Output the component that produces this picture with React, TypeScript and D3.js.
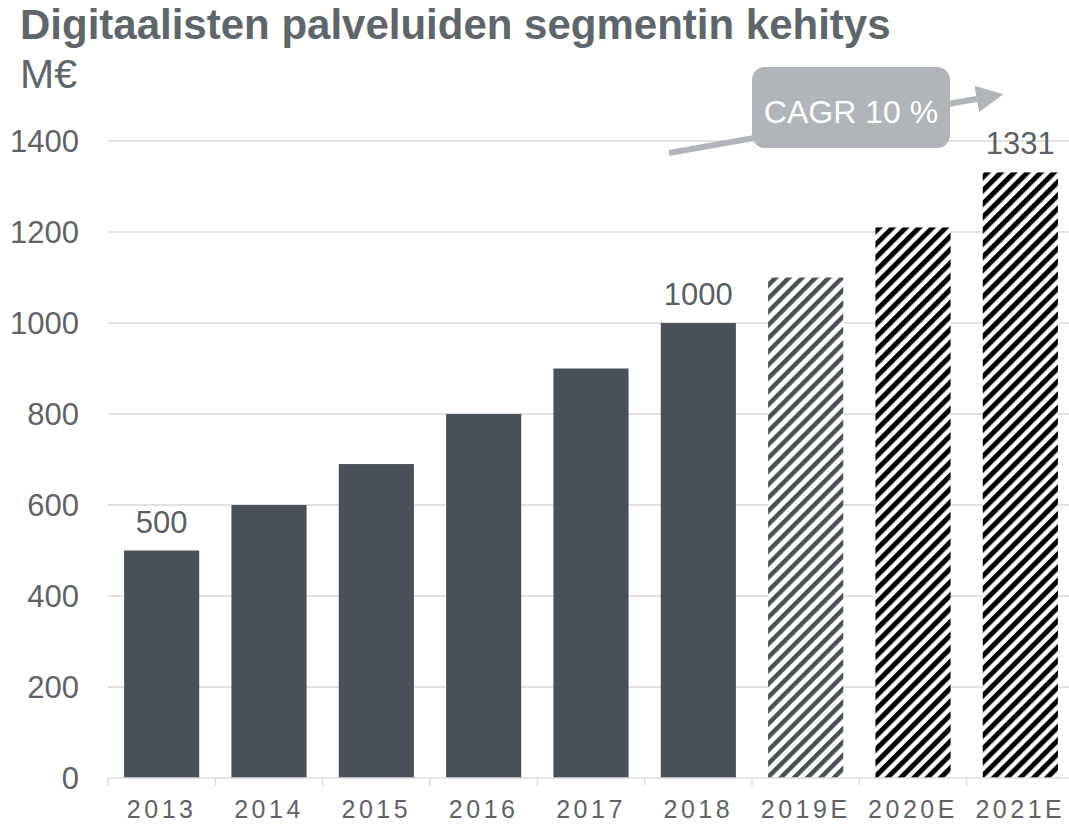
import { useEffect, useRef } from "react";
import * as d3 from "d3";

const years = ["2013", "2014", "2015", "2016", "2017", "2018", "2019E", "2020E", "2021E"];
const values = [500, 600, 690, 800, 900, 1000, 1100, 1210, 1331];
const fills = ["solid", "solid", "solid", "solid", "solid", "solid", "hatchGrey", "hatchBlack", "hatchBlack"];
const labelled = ["2013", "2018", "2021E"];
const yTicks = [0, 200, 400, 600, 800, 1000, 1200, 1400];

const title = "Digitaalisten palveluiden segmentin kehitys";
const unit = "M€";
const cagrText = "CAGR 10 %";

const W = 1069;
const H = 824;
const FONT = "'Liberation Sans', Arial, sans-serif";

const App = () => {
  const svgRef = useRef<SVGSVGElement | null>(null);

  useEffect(() => {
    if (!svgRef.current) return;
    const svg = d3.select(svgRef.current);
    svg.selectAll("*").remove();

    const xScale = d3.scaleBand().domain(years).range([108, 1074]).paddingInner(0.3).paddingOuter(0.15);
    const yScale = d3.scaleLinear().domain([0, 1400]).range([778, 141]);

    // hatch patterns
    const defs = svg.append("defs");
    const hatch = (id: string, color: string, stripe: number) => {
      const p = defs
        .append("pattern")
        .attr("id", id)
        .attr("patternUnits", "userSpaceOnUse")
        .attr("width", 9.4)
        .attr("height", 9.4)
        .attr("patternTransform", "rotate(45)");
      p.append("rect").attr("width", 9.4).attr("height", 9.4).attr("fill", "#fff");
      p.append("rect").attr("width", stripe).attr("height", 9.4).attr("fill", color);
    };
    hatch("hatchGrey", "#4a5057", 4.5);
    hatch("hatchBlack", "#000", 5);

    // gridlines
    svg
      .append("g")
      .selectAll("line")
      .data(yTicks.filter((d) => d > 0))
      .join("line")
      .attr("x1", 108)
      .attr("x2", W)
      .attr("y1", (d) => yScale(d))
      .attr("y2", (d) => yScale(d))
      .attr("stroke", "#d9d9d9")
      .attr("stroke-width", 1.5);

    // y labels
    svg
      .append("g")
      .selectAll("text")
      .data(yTicks)
      .join("text")
      .attr("x", 79)
      .attr("y", (d) => yScale(d))
      .attr("dy", "0.36em")
      .attr("text-anchor", "end")
      .attr("font-family", FONT)
      .attr("font-size", 31)
      .attr("fill", "#5f6367")
      .text((d) => d);

    // bars
    svg
      .append("g")
      .selectAll("rect")
      .data(years)
      .join("rect")
      .attr("x", (d) => xScale(d)!)
      .attr("y", (d, i) => yScale(values[i]))
      .attr("width", xScale.bandwidth())
      .attr("height", (d, i) => yScale(0) - yScale(values[i]))
      .attr("fill", (d, i) => (fills[i] === "solid" ? "#4a5057" : `url(#${fills[i]})`));

    // x axis
    const xAxis = d3.axisBottom(xScale).tickSize(0).tickPadding(0);
    const ax = svg.append("g").attr("transform", `translate(0,${yScale(0)})`).call(xAxis);
    ax.select(".domain").remove();
    ax.append("line").attr("x1", 108).attr("x2", W).attr("y1", 0).attr("y2", 0).attr("stroke", "#d9dde0").attr("stroke-width", 1.5);
    const step = xScale.step();
    ax.selectAll(".sep")
      .data(d3.range(years.length + 1))
      .join("line")
      .attr("class", "sep")
      .attr("x1", (i) => 108 + i * step)
      .attr("x2", (i) => 108 + i * step)
      .attr("y1", 0)
      .attr("y2", 8)
      .attr("stroke", "#d9dde0")
      .attr("stroke-width", 1.5);
    ax.selectAll(".tick text")
      .attr("y", 40)
      .attr("dy", 0)
      .attr("font-family", FONT)
      .attr("font-size", 25)
      .attr("letter-spacing", 3.5)
      .attr("fill", "#5f6367");

    // data labels
    svg
      .append("g")
      .selectAll("text")
      .data(years.filter((d) => labelled.includes(d)))
      .join("text")
      .attr("x", (d) => xScale(d)! + xScale.bandwidth() / 2)
      .attr("y", (d) => yScale(values[years.indexOf(d)]) - 18)
      .attr("text-anchor", "middle")
      .attr("font-family", FONT)
      .attr("font-size", 31)
      .attr("fill", "#595f63")
      .text((d) => values[years.indexOf(d)]);

    // CAGR arrow
    defs
      .append("marker")
      .attr("id", "arrowHead")
      .attr("viewBox", "0 0 10 10")
      .attr("refX", 2)
      .attr("refY", 5)
      .attr("markerWidth", 4.5)
      .attr("markerHeight", 4.5)
      .attr("orient", "auto")
      .append("path")
      .attr("d", "M0,0 L10,5 L0,10 Z")
      .attr("fill", "#b1b5ba");
    svg
      .append("line")
      .attr("x1", 669)
      .attr("y1", 153)
      .attr("x2", 982)
      .attr("y2", 98)
      .attr("stroke", "#b1b5ba")
      .attr("stroke-width", 6)
      .attr("marker-end", "url(#arrowHead)");
    svg
      .append("rect")
      .attr("x", 752)
      .attr("y", 67)
      .attr("width", 198)
      .attr("height", 81)
      .attr("rx", 13)
      .attr("fill", "#b1b5ba");
    svg
      .append("text")
      .attr("x", 851)
      .attr("y", 123)
      .attr("text-anchor", "middle")
      .attr("font-family", FONT)
      .attr("font-size", 32)
      .attr("fill", "#fff")
      .text(cagrText);

    // titles
    svg
      .append("text")
      .attr("x", 20)
      .attr("y", 39)
      .attr("font-family", FONT)
      .attr("font-weight", "bold")
      .attr("font-size", 42)
      .attr("fill", "#5e666b")
      .text(title);
    svg
      .append("text")
      .attr("x", 20)
      .attr("y", 88)
      .attr("font-family", FONT)
      .attr("font-size", 41)
      .attr("fill", "#5e666b")
      .text(unit);
  }, []);

  return (
    <div style={{ position: "absolute", left: 0, top: 0, width: W, height: H, overflow: "hidden", background: "#fff" }}>
      <svg ref={svgRef} width={W} height={H}></svg>
    </div>
  );
};

export default App;
